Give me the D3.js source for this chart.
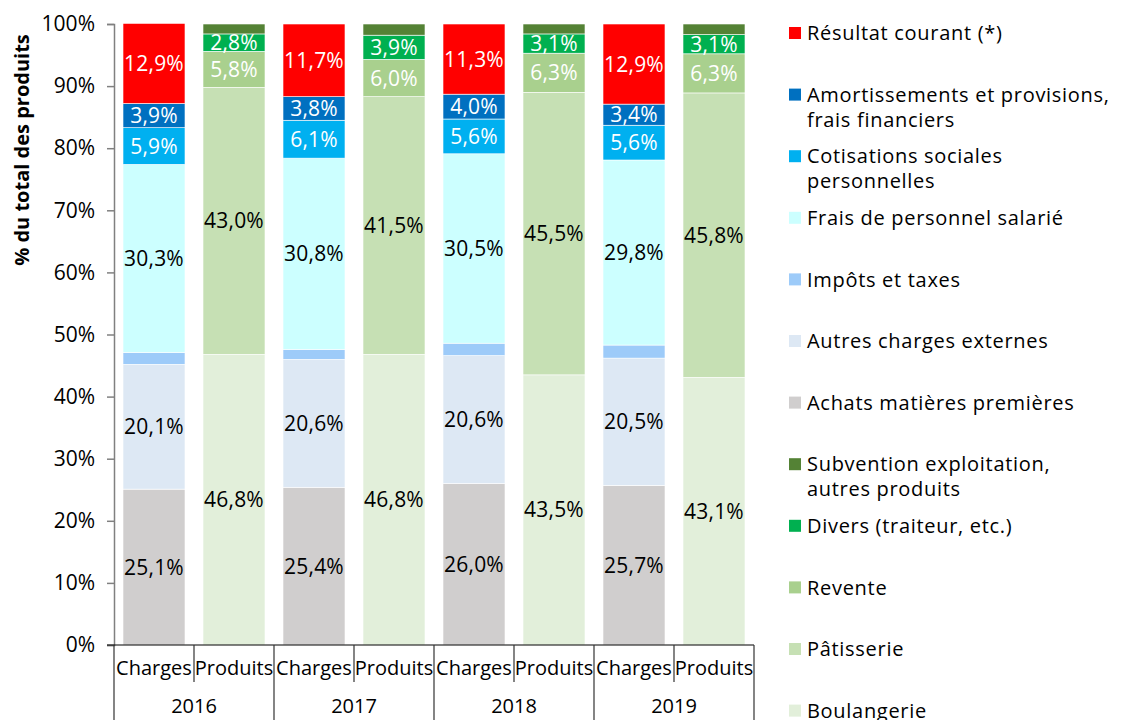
<!DOCTYPE html>
<html>
<head>
<meta charset="utf-8">
<script src="https://cdn.jsdelivr.net/npm/d3@7"></script>
<style>
  body { margin: 0; background: #fff; }
  text { font-family: 'Open Sans', sans-serif; fill: #000; }
</style>
</head>
<body>
<script>
// years and bar kinds
const years = ['2016', '2017', '2018', '2019']
const kinds = ['Charges', 'Produits']

// charges, bottom to top
const achats = [25.1, 25.4, 26.0, 25.7]
const autresCharges = [20.1, 20.6, 20.6, 20.5]
const impots = [1.9, 1.6, 2.0, 2.1]
const fraisPersonnel = [30.3, 30.8, 30.5, 29.8]
const cotisations = [5.9, 6.1, 5.6, 5.6]
const amortissements = [3.9, 3.8, 4.0, 3.4]
const resultat = [12.9, 11.7, 11.3, 12.9]

// produits, bottom to top
const boulangerie = [46.8, 46.8, 43.5, 43.1]
const patisserie = [43.0, 41.5, 45.5, 45.8]
const revente = [5.8, 6.0, 6.3, 6.3]
const divers = [2.8, 3.9, 3.1, 3.1]
const subvention = [1.6, 1.8, 1.6, 1.7]

const yTicks = [0, 10, 20, 30, 40, 50, 60, 70, 80, 90, 100]

const chargeSeries = [
	{ key: 'Achats matières premières', values: achats, color: '#d0cece', label: '#000' },
	{ key: 'Autres charges externes', values: autresCharges, color: '#dde8f4', label: '#000' },
	{ key: 'Impôts et taxes', values: impots, color: '#9dcbf9', label: null },
	{ key: 'Frais de personnel salarié', values: fraisPersonnel, color: '#ccffff', label: '#000' },
	{ key: 'Cotisations sociales personnelles', values: cotisations, color: '#00b0f0', label: '#fff' },
	{ key: 'Amortissements et provisions, frais financiers', values: amortissements, color: '#0070c0', label: '#fff' },
	{ key: 'Résultat courant (*)', values: resultat, color: '#ff0000', label: '#fff' },
]
const produitSeries = [
	{ key: 'Boulangerie', values: boulangerie, color: '#e2efda', label: '#000' },
	{ key: 'Pâtisserie', values: patisserie, color: '#c6e0b4', label: '#000' },
	{ key: 'Revente', values: revente, color: '#a9d08e', label: '#fff' },
	{ key: 'Divers (traiteur, etc.)', values: divers, color: '#00b050', label: '#fff' },
	{ key: 'Subvention exploitation, autres produits', values: subvention, color: '#548235', label: null },
]

// legend lines (reverse of stacking)
const legendItems = [
	['Résultat courant (*)'],
	['Amortissements et provisions,', 'frais financiers'],
	['Cotisations sociales', 'personnelles'],
	['Frais de personnel salarié'],
	['Impôts et taxes'],
	['Autres charges externes'],
	['Achats matières premières'],
	['Subvention exploitation,', 'autres produits'],
	['Divers (traiteur, etc.)'],
	['Revente'],
	['Pâtisserie'],
	['Boulangerie'],
]
const legendColors = ['#ff0000', '#0070c0', '#00b0f0', '#ccffff', '#9dcbf9', '#dde8f4', '#d0cece', '#548235', '#00b050', '#a9d08e', '#c6e0b4', '#e2efda']

const width = 1121
const height = 720
const svg = d3.select('body').append('svg').attr('width', width).attr('height', height)

const plotLeft = 114, plotRight = 754, plotTop = 24, plotBottom = 645

// one band per year/kind pair
const slots = []
years.forEach(yr => kinds.forEach(k => slots.push(yr + '|' + k)))

const x = d3.scaleBand().domain(slots).range([plotLeft, plotRight]).paddingInner(0.225).paddingOuter(0.1125)
const y = d3.scaleLinear().domain([0, 100]).range([plotBottom, plotTop])

function drawStack(series, kind) {
	const rows = years.map((yr, i) => {
		const r = { year: yr }
		series.forEach(s => (r[s.key] = s.values[i]))
		return r
	})
	const stacked = d3.stack().keys(series.map(s => s.key))(rows)
	stacked.forEach((layer, li) => {
		const s = series[li]
		const g = svg.append('g')
		g.selectAll('rect')
			.data(layer)
			.enter()
			.append('rect')
			.attr('x', d => x(d.data.year + '|' + kind))
			.attr('width', x.bandwidth())
			.attr('y', d => y(d[1]))
			.attr('height', d => y(d[0]) - y(d[1]))
			.attr('fill', s.color)
			.attr('stroke', '#fff')
			.attr('stroke-width', 0.6)
		if (s.label) {
			g.selectAll('text')
				.data(layer)
				.enter()
				.append('text')
				.attr('x', d => x(d.data.year + '|' + kind) + x.bandwidth() / 2)
				.attr('y', d => y((d[0] + d[1]) / 2))
				.attr('dy', '0.36em')
				.attr('text-anchor', 'middle')
				.style('font-size', '21px')
				.style('letter-spacing', '0.2px')
				.style('fill', s.label)
				.text(d => d.data[s.key].toFixed(1).replace('.', ',') + '%')
		}
	})
}

drawStack(chargeSeries, 'Charges')
drawStack(produitSeries, 'Produits')

// y axis
const yAxis = svg.append('g').attr('transform', `translate(${plotLeft},0)`)
	.call(d3.axisLeft(y).tickValues(yTicks).tickSize(7).tickPadding(12).tickFormat(d => d + '%'))
yAxis.select('.domain').attr('stroke', '#808080').attr('stroke-width', 1.5)
yAxis.selectAll('.tick line').attr('stroke', '#808080').attr('stroke-width', 1.5)
yAxis.selectAll('.tick text').style('font-size', '21px').style('font-family', "'Open Sans', sans-serif").attr('fill', '#000')

svg.append('text')
	.attr('transform', 'translate(29,150) rotate(-90)')
	.attr('text-anchor', 'middle')
	.style('font-size', '20px')
	.style('font-weight', 'bold')
	.text('% du total des produits')

// category axis
svg.append('line').attr('x1', plotLeft - 7).attr('x2', plotRight).attr('y1', plotBottom).attr('y2', plotBottom)
	.attr('stroke', '#000').attr('stroke-width', 1.2)

const step = x.step()
slots.forEach((s, i) => {
	const x0 = plotLeft + i * step
	const isGroup = i % 2 === 0
	svg.append('line').attr('x1', x0).attr('x2', x0).attr('y1', plotBottom).attr('y2', isGroup ? height : 682)
		.attr('stroke', '#333').attr('stroke-width', 1.2)
	svg.append('text')
		.attr('x', x(s) + x.bandwidth() / 2)
		.attr('y', 675)
		.attr('text-anchor', 'middle')
		.style('font-size', '20px')
		.text(s.split('|')[1])
})
svg.append('line').attr('x1', plotRight).attr('x2', plotRight).attr('y1', plotBottom).attr('y2', height)
	.attr('stroke', '#333').attr('stroke-width', 1.2)

years.forEach((yr, i) => {
	svg.append('text')
		.attr('x', plotLeft + step * (2 * i + 1))
		.attr('y', 713)
		.attr('text-anchor', 'middle')
		.style('font-size', '20px')
		.text(yr)
})

// legend
const legend = svg.append('g')
legendItems.forEach((lines, i) => {
	const cy = 33 + i * 61.6
	legend.append('rect').attr('x', 789).attr('y', cy - 6).attr('width', 12).attr('height', 12).attr('fill', legendColors[i])
	lines.forEach((t, j) => {
		legend.append('text')
			.attr('x', 807)
			.attr('y', cy + j * 25)
			.attr('dy', '0.36em')
			.style('font-size', '20px')
			.style('letter-spacing', '0.7px')
			.text(t)
	})
})
</script>
</body>
</html>
